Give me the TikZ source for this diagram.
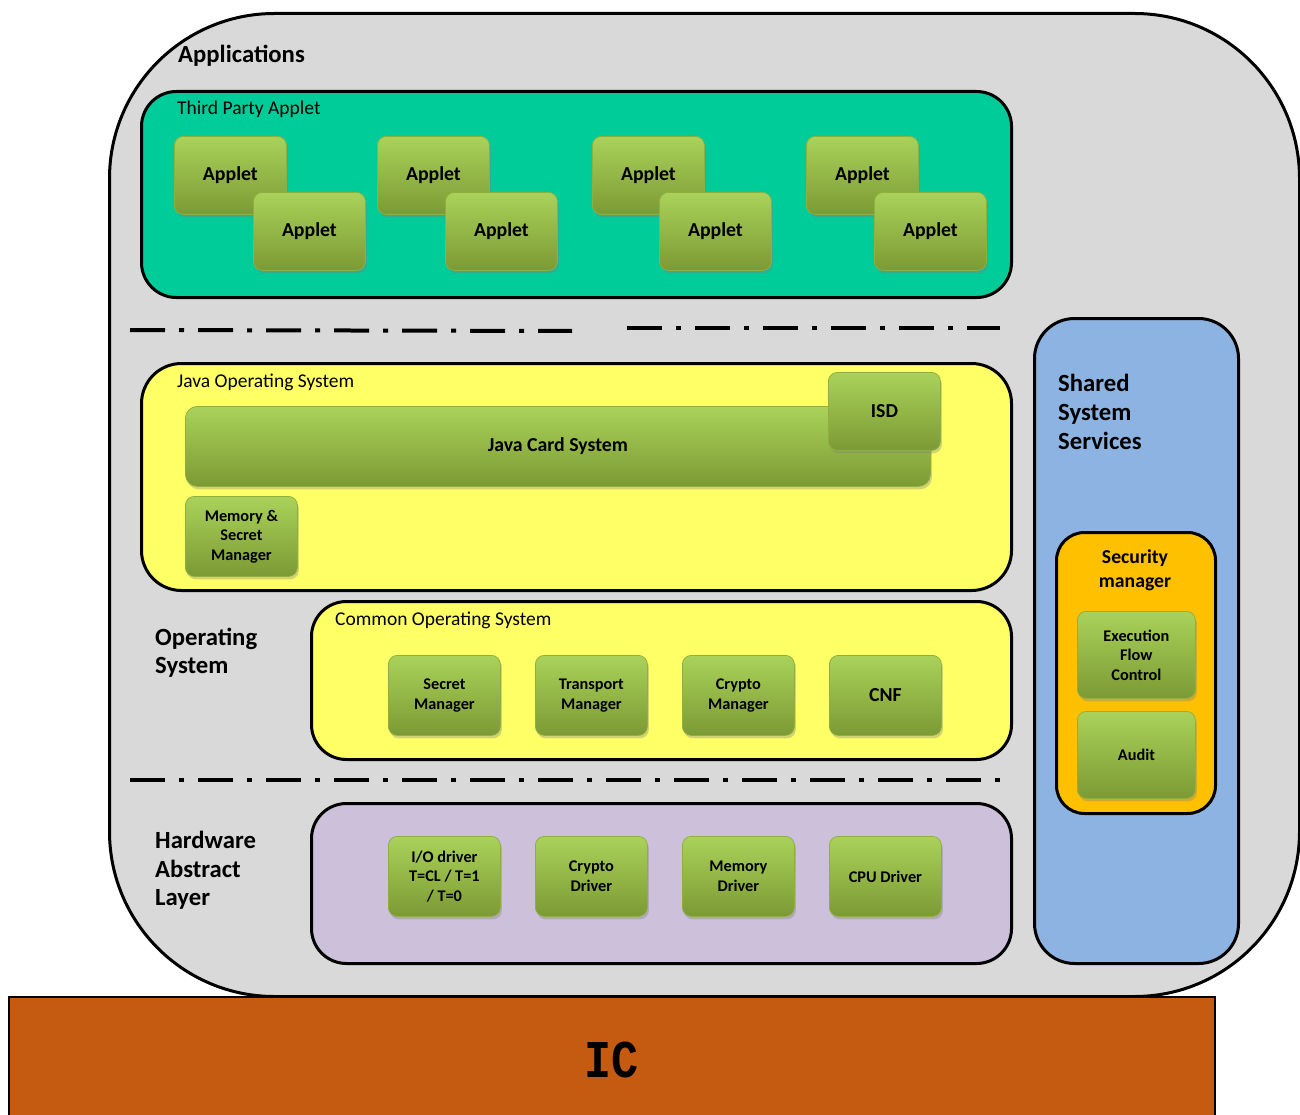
\documentclass[tikz,border=0pt]{standalone}
\usepackage{fontspec}
\setmainfont{Carlito}
\newfontfamily\icfont{Liberation Mono}
\usetikzlibrary{shadows}
\definecolor{outergray}{HTML}{D9D9D9}
\definecolor{tealbg}{HTML}{00CC99}
\definecolor{yellowbg}{HTML}{FFFF66}
\definecolor{purplebg}{HTML}{CCC0DA}
\definecolor{bluebg}{HTML}{8DB3E2}
\definecolor{orangebg}{HTML}{FFC000}
\definecolor{icorange}{HTML}{C55A11}
\definecolor{gtop}{HTML}{AAD25A}
\definecolor{gbot}{HTML}{7C9A34}
\definecolor{gedge}{HTML}{8FB040}
\begin{document}
\begin{tikzpicture}[x=1pt,y=-1pt,
  gbox/.style={rounded corners=9pt, top color=gtop, bottom color=gbot, draw=gedge,
    line width=0.8pt, drop shadow={shadow xshift=1.5pt, shadow yshift=-3pt, opacity=0.35},
    align=center, inner sep=1pt, text=black, anchor=north west},
  big/.style={font=\bfseries\fontsize{19.8}{24}\selectfont},
  small/.style={font=\bfseries\fontsize{16.3}{19.5}\selectfont},
  cont/.style={draw=black, line width=3pt, anchor=north west, inner sep=0pt},
  lbl/.style={font=\bfseries\fontsize{24.7}{29}\selectfont, anchor=base west, inner sep=0pt},
  ttl/.style={font=\fontsize{19.5}{24}\selectfont, anchor=base west, inner sep=0pt},
  sepline/.style={line width=4pt, dash pattern=on 35pt off 14pt on 5pt off 14pt}
]
\useasboundingbox (0,0) rectangle (1300,1115);
\clip (0,0) rectangle (1300,1115);

% outer application area
\node[cont, fill=outergray, rounded corners=165pt, minimum width=1190pt, minimum height=983pt] (outer) at (108,12) {};
\node[lbl] (apps) at (178,63) {Applications};

% third party applets
\node[cont, fill=tealbg, rounded corners=35pt, minimum width=870pt, minimum height=206pt] (tpa) at (140,90) {};
\node[ttl] (tpat) at (177,115) {Third Party Applet};
\foreach \i/\x in {1/174,2/377,3/592,4/806}{
  \node[gbox, big, minimum width=112pt, minimum height=78pt] (ab\i) at (\x,136) {Applet};
}
\foreach \i/\x in {1/253,2/445,3/659,4/874}{
  \node[gbox, big, minimum width=112pt, minimum height=78pt] (af\i) at (\x,192) {Applet};
}

% separators
\draw[sepline] (130,330) -- (572,331);
\draw[sepline] (627,328) -- (1000,328);
\draw[sepline] (130,780) -- (1010,780);

% Java OS
\node[cont, fill=yellowbg, rounded corners=40pt, minimum width=870pt, minimum height=227pt] (jos) at (140,362) {};
\node[ttl] (jost) at (177,387) {Java Operating System};
\node[gbox, big, rounded corners=12pt, minimum width=745pt, minimum height=80pt] (jcs) at (185,406) {Java Card System};
\node[gbox, big, minimum width=112pt, minimum height=78pt] (isd) at (828,372) {ISD};
\node[gbox, small, minimum width=112pt, minimum height=80pt] (msm) at (185,496) {Memory \&\\Secret\\Manager};

% Operating System
\node[lbl] (os1) at (155,645) {Operating};
\node[lbl] (os2) at (155,673) {System};
\node[cont, fill=yellowbg, rounded corners=35pt, minimum width=700pt, minimum height=158pt] (cos) at (310,600) {};
\node[ttl] (cost) at (335,625) {Common Operating System};
\node[gbox, small, minimum width=112pt, minimum height=80pt] (sm) at (388,655) {Secret\\Manager};
\node[gbox, small, minimum width=112pt, minimum height=80pt] (tm) at (535,655) {Transport\\Manager};
\node[gbox, small, minimum width=112pt, minimum height=80pt] (cm) at (682,655) {Crypto\\Manager};
\node[gbox, big, minimum width=112pt, minimum height=80pt] (cnf) at (829,655) {CNF};

% HAL
\node[lbl] (hal1) at (155,848) {Hardware};
\node[lbl] (hal2) at (155,877) {Abstract};
\node[lbl] (hal3) at (155,905) {Layer};
\node[cont, fill=purplebg, rounded corners=35pt, minimum width=700pt, minimum height=160pt] (hal) at (310,802) {};
\node[gbox, small, minimum width=112pt, minimum height=80pt] (iod) at (388,836) {I/O driver\\T=CL / T=1\\/ T=0};
\node[gbox, small, minimum width=112pt, minimum height=80pt] (cd) at (535,836) {Crypto\\Driver};
\node[gbox, small, minimum width=112pt, minimum height=80pt] (md) at (682,836) {Memory\\Driver};
\node[gbox, small, minimum width=112pt, minimum height=80pt] (cpu) at (829,836) {CPU Driver};

% Shared system services
\node[cont, fill=bluebg, rounded corners=40pt, minimum width=204pt, minimum height=645pt] (sss) at (1033,317) {};
\node[lbl] (sss1) at (1058,391) {Shared};
\node[lbl] (sss2) at (1058,420) {System};
\node[lbl] (sss3) at (1058,449) {Services};
\node[cont, fill=orangebg, rounded corners=28pt, minimum width=159pt, minimum height=281pt] (secm) at (1055,531) {};
\node[font=\bfseries\fontsize{19.7}{24}\selectfont, align=center, inner sep=0pt] (secmt) at (1135,570) {Security\\manager};
\node[gbox, small, minimum width=118pt, minimum height=87pt] (efc) at (1077,611) {Execution\\Flow\\Control};
\node[gbox, small, minimum width=118pt, minimum height=87pt] (aud) at (1077,711) {Audit};

% IC
\node[draw=black, line width=2pt, fill=icorange, anchor=north west, minimum width=1206pt, minimum height=140pt] (ic) at (8,996) {};
\node[font=\icfont\bfseries\fontsize{45}{45}\selectfont, inner sep=0pt] (ict) at (611,1060) {\scalebox{1}[1.18]{IC}};
\end{tikzpicture}
\end{document}
